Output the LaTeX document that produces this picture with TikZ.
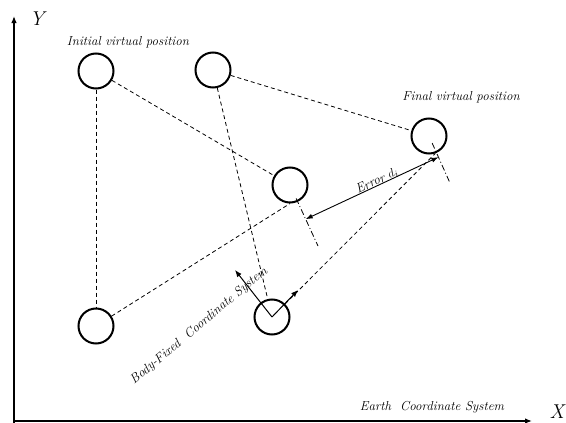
\documentclass[tikz,border=0pt]{standalone}
\usetikzlibrary{calc,arrows.meta}
\begin{document}
\begin{tikzpicture}[x=1pt,y=-1pt,
  robot/.style={circle,draw,line width=2pt,minimum size=35pt,inner sep=0pt},
  dline/.style={dash pattern=on 4pt off 3pt,line width=0.8pt},
  ddline/.style={dash pattern=on 6pt off 2.5pt on 1pt off 2.5pt,line width=0.8pt},
  axis/.style={line width=1.3pt,-{Latex[length=7pt,width=5.5pt]}},
  lbl/.style={font=\fontsize{13}{15}\selectfont\itshape,inner sep=0pt}]
\useasboundingbox (0,0) rectangle (566,423);
% axes
\coordinate (O) at (14,421);
\coordinate (Yt) at (14,16);
\coordinate (Xt) at (532,421);
\draw[axis] (14,423) -- (Yt);
\draw[axis] (O) -- (Xt);
\node[font=\fontsize{20}{22}\selectfont\itshape] (Ylab) at (37,19) {Y};
\node[font=\fontsize{20}{22}\selectfont\itshape,inner sep=1pt] (Xlab) at (557,412) {X};
% robots
\node[robot] (A) at (96,71) {};
\node[robot] (B) at (213,70) {};
\node[robot] (C) at (290,185) {};
\node[robot] (D) at (429,136) {};
\node[robot] (E) at (96,326) {};
\node[robot] (F) at (272,317) {};
% dashed links
\draw[dline] (A) -- (E);
\draw[dline] (A) -- (C);
\draw[dline] (B) -- (F);
\draw[dline] (B) -- (D);
\draw[dline] (E) -- (C.south);
\draw[dline] (F) -- (D.-70);
% dash-dot extension lines
\coordinate (cEnd) at (318,246);
\coordinate (dEnd) at (450,183);
\draw[ddline] ($(C.center)!0.22!(cEnd)$) -- (cEnd);
\draw[ddline] ($(D.center)!0.15!(dEnd)$) -- (dEnd);
\coordinate (e1) at ($(C.center)!0.56!(cEnd)$);
\coordinate (e2) at ($(D.center)!0.45!(dEnd)$);
\draw[line width=0.9pt,{Latex[length=7pt,width=5pt]}-{Latex[length=7pt,width=5pt]}] (e1) -- (e2);
\node[lbl,rotate=25] (err) at (377,181) {Error $d_i$};
% body-fixed axes
\coordinate (bx) at (235,270);
\coordinate (by) at (298,290);
\draw[line width=1pt,-{Latex[length=7pt,width=5.5pt]}] (F.center) -- (bx);
\draw[line width=1pt,-{Latex[length=7pt,width=5.5pt]}] (F.center) -- (by);
% labels
\node[lbl] (init) at (128,42) {Initial virtual position};
\node[lbl] (fin) at (461,97) {Final virtual position};
\node[lbl] (earth) at (432,407) {Earth\ \ Coordinate System};
\node[lbl,rotate=40] (body) at (199,326) {Body-Fixed\ \ Coordinate System};
\end{tikzpicture}
\end{document}
